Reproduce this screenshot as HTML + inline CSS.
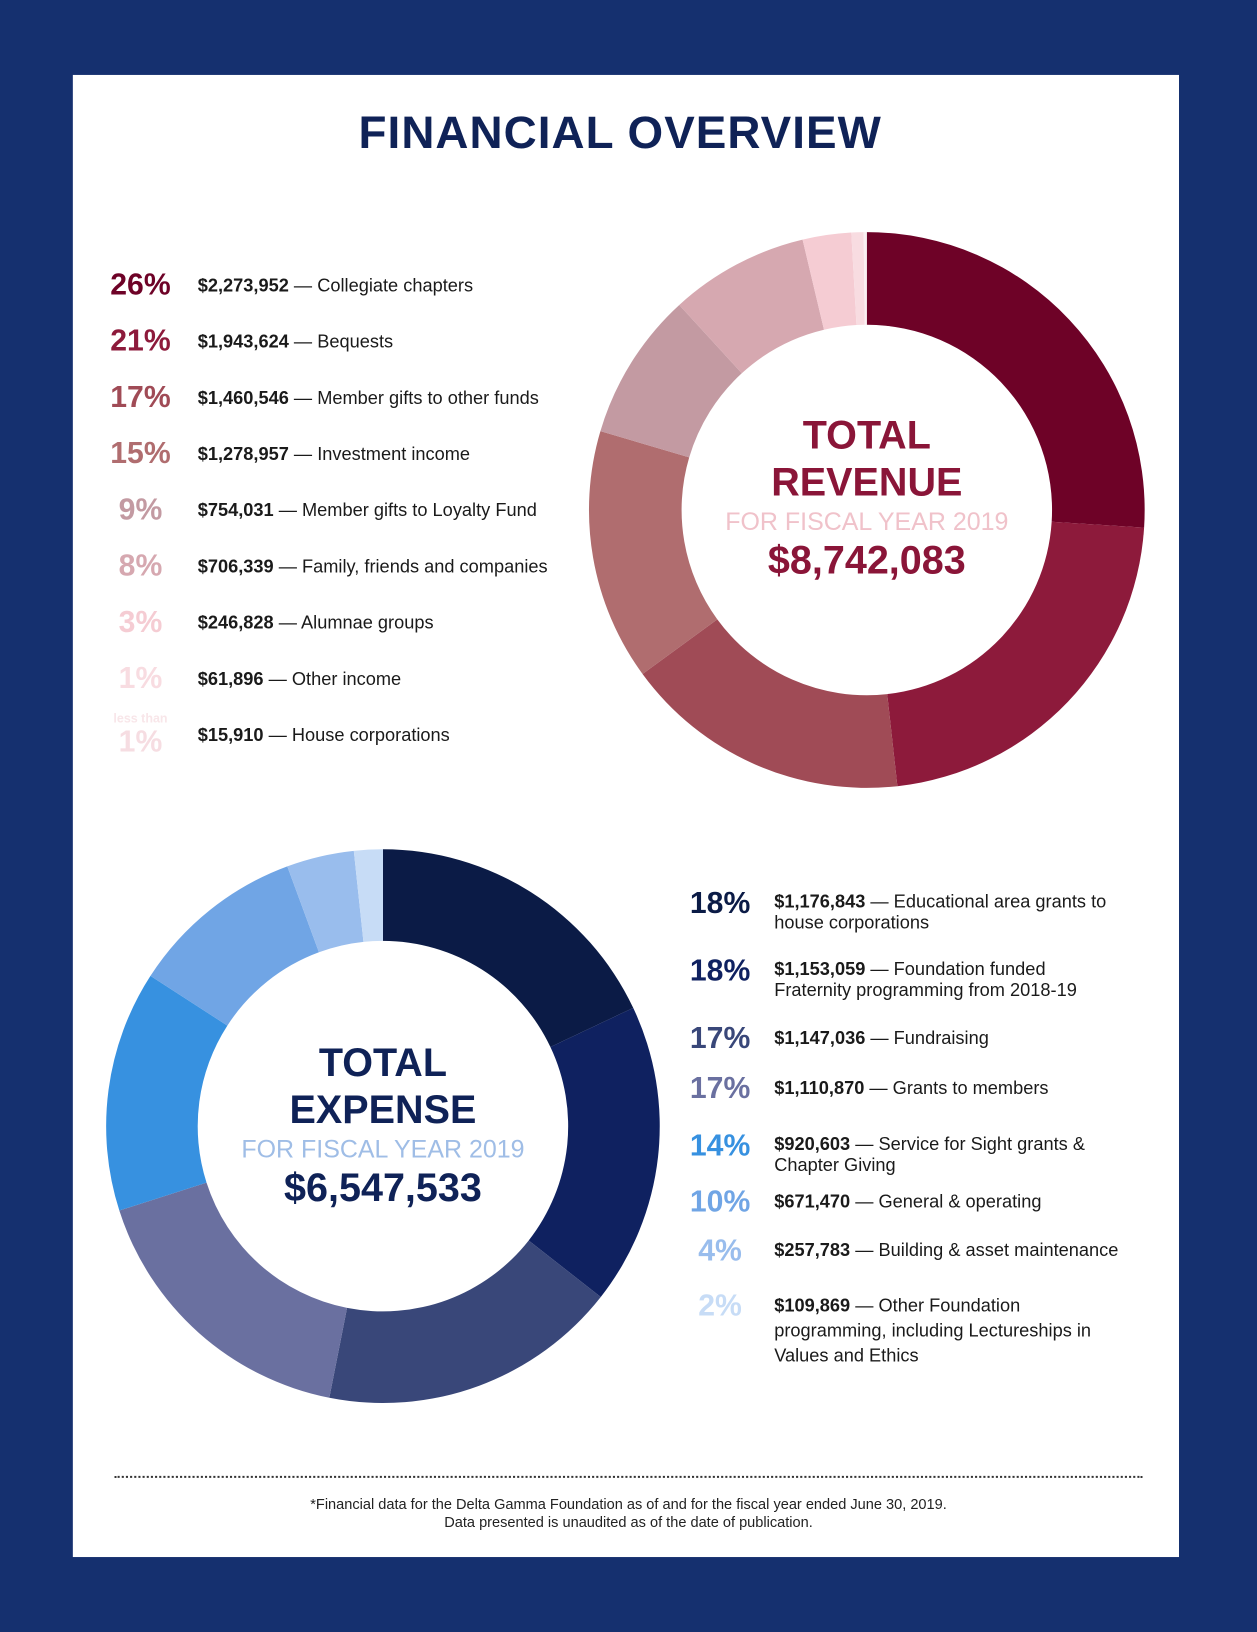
<!DOCTYPE html>
<html><head><meta charset="utf-8">
<style>
html,body{margin:0;padding:0;width:1257px;height:1632px;overflow:hidden;background:#15306f;}
#wrap{position:absolute;left:0;top:0;width:1208px;height:1568px;transform:scale(1.0406,1.0408);transform-origin:0 0;font-family:"Liberation Sans",sans-serif;}
#panel{position:absolute;left:70px;top:72px;width:1063px;height:1424px;background:#fff;}
.t{position:absolute;white-space:nowrap;}
.pct{position:absolute;font-weight:bold;font-size:29px;text-align:center;width:90px;line-height:30px;}
.lab{position:absolute;font-size:17.5px;color:#1a1a1a;line-height:20px;}
.lab b{font-weight:bold;}
</style></head><body>
<div id="wrap">
<div id="panel"></div>
<div class="t" style="left:0;width:1192px;text-align:center;top:103px;font-size:44px;font-weight:bold;color:#0f2257;letter-spacing:1px;">FINANCIAL OVERVIEW</div>
<svg id="chart" width="1208" height="1568" style="position:absolute;left:0;top:0"></svg>
<div id="revLegend"></div>
<div id="expLegend"></div>

<div class="t" style="left:683px;width:300px;text-align:center;top:397px;font-size:38px;font-weight:bold;color:#8a1538;line-height:45px;">TOTAL<br>REVENUE</div>
<div class="t" style="left:683px;width:300px;text-align:center;top:488px;font-size:24px;color:#f0c2ca;">FOR FISCAL YEAR 2019</div>
<div class="t" style="left:683px;width:300px;text-align:center;top:518px;font-size:38px;font-weight:bold;color:#8a1538;">$8,742,083</div>

<div class="t" style="left:218px;width:300px;text-align:center;top:1000px;font-size:38px;font-weight:bold;color:#0f2257;line-height:45px;">TOTAL<br>EXPENSE</div>
<div class="t" style="left:218px;width:300px;text-align:center;top:1091px;font-size:24px;color:#9fbde6;">FOR FISCAL YEAR 2019</div>
<div class="t" style="left:218px;width:300px;text-align:center;top:1121px;font-size:38px;font-weight:bold;color:#0f2257;">$6,547,533</div>

<div style="position:absolute;left:110px;width:988px;top:1418px;border-top:2px dotted #333;"></div>
<div class="t" style="left:0;width:1208px;text-align:center;top:1437px;font-size:14px;color:#222;line-height:17px;">*Financial data for the Delta Gamma Foundation as of and for the fiscal year ended June 30, 2019.<br>Data presented is unaudited as of the date of publication.</div>
</div>
<script>
const revCategories=["Collegiate chapters","Bequests","Member gifts to other funds","Investment income","Member gifts to Loyalty Fund","Family, friends and companies","Alumnae groups","Other income","House corporations"];
const revValues=[2273952,1943624,1460546,1278957,754031,706339,246828,61896,15910];
const revPctLabels=["26%","21%","17%","15%","9%","8%","3%","1%","1%"];
const revColors=["#6e0227","#8d1a3b","#a04b56","#b06d6f","#c39aa2","#d6a8b0","#f5ccd3","#f8dce1","#faf0f2"];
const expCategories=["Educational area grants to|house corporations","Foundation funded|Fraternity programming from 2018-19","Fundraising","Grants to members","Service for Sight grants &|Chapter Giving","General & operating","Building & asset maintenance","Other Foundation|programming, including Lectureships in|Values and Ethics"];
const expValues=[1176843,1153059,1147036,1110870,920603,671470,257783,109869];
const expPctLabels=["18%","18%","17%","17%","14%","10%","4%","2%"];
const expColors=["#0b1b46","#0f2160","#394779","#6a70a0","#3791e0","#70a5e5","#99bded","#c7dcf6"];
const NS="http://www.w3.org/2000/svg";
const svg=document.getElementById('chart');
function fmt(v){return "$"+v.toLocaleString('en-US');}
function donut(vals,colors,cx,cy,r0,r1,name){
  const tot=vals.reduce((a,b)=>a+b,0);let a=-Math.PI/2;
  vals.forEach((v,i)=>{
    const b=a+v/tot*2*Math.PI,lg=(b-a)>Math.PI?1:0;
    const p=(r,t)=>[cx+r*Math.cos(t),cy+r*Math.sin(t)];
    const [x1,y1]=p(r1,a),[x2,y2]=p(r1,b),[x3,y3]=p(r0,b),[x4,y4]=p(r0,a);
    const path=document.createElementNS(NS,'path');
    path.setAttribute('d',`M${x1},${y1}A${r1},${r1} 0 ${lg} 1 ${x2},${y2}L${x3},${y3}A${r0},${r0} 0 ${lg} 0 ${x4},${y4}Z`);
    path.setAttribute('fill',colors[i]);
    
    
    svg.appendChild(path);a=b;});
}
donut(revValues,revColors,833,490,178,267,'revenue');
donut(expValues,expColors,368,1082,178,266,'expense');
const rl=document.getElementById('revLegend');
revValues.forEach((v,i)=>{
  const y=259+i*54;
  const p=document.createElement('div');p.className='pct';
  
  
  p.style.left='90px';p.style.top=y+'px';p.style.color=revColors[i];p.textContent=revPctLabels[i];
  if(i===8){p.style.top=(y+7)+'px';p.style.color='#f6dde2';const s=document.createElement('div');s.className='t';
    
    
    s.style.cssText='left:105px;top:'+(y-8)+'px;font-size:12px;font-weight:bold;color:#f8e6e9;width:60px;text-align:center';s.textContent='less than';rl.appendChild(s);}
  rl.appendChild(p);
  const l=document.createElement('div');l.className='lab t';
  
  
  l.style.left='190px';l.style.top=(y+5)+'px';l.innerHTML='<b>'+fmt(v)+'</b> — '+revCategories[i];rl.appendChild(l);
});
const el=document.getElementById('expLegend');
const expY=[852,917,983,1031,1085,1140,1187,1238];
expValues.forEach((v,i)=>{
  const y=expY[i];
  const p=document.createElement('div');p.className='pct';
  
  
  p.style.left='647px';p.style.top=(i===7?y+2:(expCategories[i].includes('|')?y+1:y))+'px';p.style.color=expColors[i];p.textContent=expPctLabels[i];
  el.appendChild(p);
  const l=document.createElement('div');l.className='lab t';
  
  
  l.style.left='744px';l.style.top=(y+4)+'px';
  if(i===7)l.style.lineHeight='24px';
  l.innerHTML='<b>'+fmt(v)+'</b> — '+expCategories[i].split('|').join('<br>');el.appendChild(l);
});
</script>
</body></html>
